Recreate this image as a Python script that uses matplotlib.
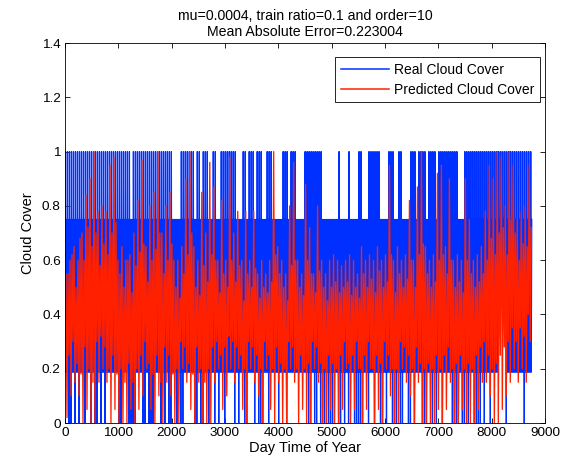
import numpy as np
import matplotlib
matplotlib.use('Agg')
import matplotlib.pyplot as plt

plt.rcParams['font.family'] = ['Liberation Sans', 'DejaVu Sans']

hours_total = 8760

# real cloud cover: levels seen in the plot
full_level = 1.0
upper_level = 0.75
base_level = 0.1875
clear_level = 0.0

# hour spans where the real series reaches 1
full_spans = [(0, 210), (225, 265), (280, 335), (355, 600), (655, 690), (710, 750),
              (805, 975), (995, 1010), (1030, 1090), (1105, 1145), (1160, 1235),
              (1275, 1310), (1330, 1365), (1385, 1425), (1480, 1520), (1555, 1595),
              (1630, 1650), (1670, 1760), (1780, 1840), (1875, 1910), (1970, 1985),
              (2175, 2420), (2495, 2530), (2605, 2680), (2775, 2810), (2945, 3035),
              (3075, 3200), (3340, 3390), (3450, 3525), (3600, 3675), (3790, 3860),
              (4090, 4160), (4240, 4310), (4500, 4575), (4615, 4710), (4745, 4800),
              (5140, 5155), (5325, 5340), (5515, 5570), (5700, 5755), (5775, 5830),
              (5850, 5885), (6095, 6170), (6280, 6320), (6490, 6580), (6640, 6770),
              (6845, 6955), (7015, 7105), (7125, 7350), (7520, 7690), (7725, 7835),
              (7895, 8285), (8345, 8760)]

# hours where the real series drops to 0
clear_hours = [75, 131, 206, 263, 375, 506, 563, 600, 675, 769, 1013, 1050, 1069,
               1200, 1238, 1294, 1331, 1463, 1519, 1594, 1631, 1669, 1800, 1894,
               1950, 1988, 2119, 2175, 2213, 2456, 2475, 2550, 2588, 2719, 2831,
               2888, 3000, 3188, 3281, 3394, 3431, 3563, 3656, 3694, 3731, 3825,
               3844, 4013, 4031, 4163, 4575, 4613, 4688, 4725, 4800, 4838, 4894,
               4969, 5006, 5044, 5138, 5194, 5250, 5325, 5344, 5438, 5475, 5513,
               5569, 5606, 5700, 5831, 5944, 5981, 6038, 6056, 6169, 6206, 6244,
               6319, 6338, 6450, 6488, 6581, 6713, 6750, 6788, 6900, 6919, 6994,
               7106, 7275, 7313, 7369, 7406, 7481, 7519, 7575, 7706, 7725, 7781,
               7819, 7875, 8006, 8194, 8213, 8288, 8306, 8644]

# span where the real series stays at 0.5 or above
raised_spans = [(8150, 8240)]

# predicted cloud cover, max / min per bin (117 bins over the year)
pred_max = [0.55, 0.6, 0.65, 0.6, 0.7, 0.84, 0.9, 1.0, 0.78, 0.8,
            0.78, 0.95, 0.98, 0.6, 0.65, 0.6, 0.62, 0.7, 0.82, 0.97,
            0.65, 0.8, 0.85, 1.0, 0.7, 0.8, 0.85, 0.6, 0.6, 0.65,
            0.9, 1.0, 0.65, 0.6, 0.85, 0.7, 0.96, 0.87, 0.6, 0.82,
            0.6, 0.98, 0.7, 0.78, 0.6, 0.78, 0.6, 0.78, 0.55, 0.6,
            0.55, 0.6, 1.0, 0.65, 0.6, 0.55, 0.8, 0.96, 0.6, 0.55,
            0.88, 0.72, 0.55, 0.8, 0.6, 0.55, 0.6, 0.62, 0.6, 0.58,
            0.6, 0.62, 0.6, 0.55, 0.65, 0.6, 0.62, 0.6, 0.65, 0.6,
            0.62, 0.95, 0.6, 0.65, 0.6, 0.62, 0.82, 0.6, 0.87, 1.0,
            0.65, 0.6, 0.62, 0.92, 0.95, 0.65, 0.9, 0.6, 0.62, 0.6,
            0.9, 0.75, 0.6, 0.62, 0.65, 0.78, 0.95, 0.9, 1.0, 0.98,
            0.8, 1.0, 0.95, 0.75, 0.78, 0.8, 0.95]
pred_min = [0.02, 0.1, 0.15, 0.1, 0.0, 0.05, 0.0, 0.0, 0.15, 0.2,
            0.15, 0.0, 0.05, 0.0, 0.0, 0.0, 0.05, 0.0, 0.05, 0.1,
            0.2, 0.05, 0.0, 0.1, 0.0, 0.15, 0.1, 0.0, 0.0, 0.2,
            0.15, 0.05, 0.0, 0.15, 0.0, 0.0, 0.0, 0.15, 0.2, 0.05,
            0.1, 0.2, 0.15, 0.2, 0.05, 0.0, 0.2, 0.15, 0.1, 0.0,
            0.2, 0.05, 0.0, 0.15, 0.0, 0.0, 0.2, 0.15, 0.0, 0.05,
            0.0, 0.0, 0.2, 0.15, 0.0, 0.0, 0.05, 0.0, 0.0, 0.05,
            0.2, 0.0, 0.05, 0.2, 0.0, 0.05, 0.2, 0.0, 0.05, 0.0,
            0.2, 0.1, 0.0, 0.0, 0.2, 0.15, 0.1, 0.0, 0.15, 0.0,
            0.0, 0.0, 0.0, 0.05, 0.0, 0.05, 0.15, 0.0, 0.0, 0.05,
            0.0, 0.0, 0.0, 0.05, 0.15, 0.15, 0.1, 0.0, 0.0, 0.05,
            0.1, 0.15, 0.2, 0.15, 0.2, 0.15, 0.3]

# dense core of the predicted series, same bins
core_hi = [0.55, 0.62, 0.5, 0.68, 0.6, 0.72, 0.65, 0.7, 0.58, 0.66,
           0.62, 0.7, 0.74, 0.55, 0.5, 0.6, 0.48, 0.58, 0.63, 0.66,
           0.52, 0.6, 0.64, 0.7, 0.55, 0.6, 0.66, 0.5, 0.46, 0.55,
           0.62, 0.7, 0.5, 0.47, 0.58, 0.52, 0.62, 0.6, 0.48, 0.55,
           0.5, 0.6, 0.52, 0.58, 0.45, 0.55, 0.5, 0.57, 0.46, 0.5,
           0.48, 0.52, 0.62, 0.55, 0.5, 0.45, 0.58, 0.6, 0.5, 0.47,
           0.6, 0.55, 0.48, 0.56, 0.5, 0.45, 0.5, 0.52, 0.48, 0.5,
           0.52, 0.47, 0.5, 0.46, 0.55, 0.5, 0.53, 0.48, 0.56, 0.5,
           0.52, 0.62, 0.48, 0.55, 0.5, 0.53, 0.6, 0.5, 0.62, 0.66,
           0.55, 0.5, 0.52, 0.6, 0.62, 0.55, 0.6, 0.5, 0.52, 0.48,
           0.6, 0.55, 0.5, 0.52, 0.55, 0.6, 0.68, 0.62, 0.7, 0.72,
           0.62, 0.75, 0.7, 0.6, 0.66, 0.65, 0.72]
core_lo = [0.2, 0.25, 0.3, 0.22, 0.18, 0.28, 0.2, 0.15, 0.3, 0.32,
           0.28, 0.2, 0.25, 0.18, 0.2, 0.15, 0.22, 0.15, 0.2, 0.25,
           0.3, 0.22, 0.18, 0.25, 0.15, 0.28, 0.25, 0.18, 0.2, 0.3,
           0.28, 0.22, 0.18, 0.28, 0.2, 0.15, 0.2, 0.28, 0.3, 0.25,
           0.28, 0.32, 0.3, 0.28, 0.25, 0.2, 0.3, 0.28, 0.25, 0.2,
           0.3, 0.25, 0.2, 0.28, 0.22, 0.2, 0.3, 0.28, 0.2, 0.25,
           0.2, 0.22, 0.3, 0.28, 0.22, 0.2, 0.25, 0.22, 0.2, 0.25,
           0.3, 0.22, 0.25, 0.3, 0.2, 0.25, 0.3, 0.2, 0.25, 0.22,
           0.3, 0.25, 0.2, 0.2, 0.3, 0.28, 0.25, 0.2, 0.28, 0.22,
           0.2, 0.22, 0.2, 0.25, 0.2, 0.25, 0.28, 0.2, 0.22, 0.25,
           0.2, 0.22, 0.2, 0.25, 0.28, 0.3, 0.25, 0.2, 0.22, 0.25,
           0.28, 0.3, 0.35, 0.3, 0.35, 0.32, 0.4]

title_txt = 'mu=0.0004, train ratio=0.1 and order=10\nMean Absolute Error=0.223004'

# ---- real series: two up/down strokes per 2px bin
nb = 234
edges = np.linspace(0, hours_total, nb + 1)
rx, ry = [], []
for i in range(nb):
    a, b = edges[i], edges[i + 1]
    d = b - a
    hi = full_level if any(s < b and e > a for s, e in full_spans) else upper_level
    lo = clear_level if any(a <= h < b for h in clear_hours) else base_level
    base = base_level
    if any(s < b and e > a for s, e in raised_spans):
        lo = base = 0.5
    rx += [a, a + d / 4, a + d / 2, a + 3 * d / 4]
    ry += [lo, hi, base, upper_level]

# ---- predicted series
nr = len(pred_max)
edges_r = np.linspace(0, hours_total, nr + 1)
px_, py_ = [], []
for j in range(nr):
    a, b = edges_r[j], edges_r[j + 1]
    d = b - a
    px_ += [a, a + d / 4, a + d / 2, a + 3 * d / 4]
    py_ += [core_lo[j], pred_max[j], pred_min[j], core_hi[j]]

fig = plt.figure(figsize=(5.78, 4.65), dpi=100)
ax = fig.add_axes([0.1125, 0.0903, 0.8305, 0.8172])

ax.plot(rx, ry, color='#0030ff', linewidth=0.9, label='Real Cloud Cover')
ax.plot(px_, py_, color='#ff2000', linewidth=0.95, label='Predicted Cloud Cover')

ax.set_xlim(0, 9000)
ax.set_ylim(0, 1.4)
ax.set_xticks(np.arange(0, 9001, 1000))
ax.set_yticks([0, 0.2, 0.4, 0.6, 0.8, 1.0, 1.2, 1.4])
ax.set_yticklabels(['0', '0.2', '0.4', '0.6', '0.8', '1', '1.2', '1.4'])
ax.tick_params(direction='in', top=True, right=True, length=3.5, width=0.6,
               labelsize=9.7, pad=3)
for sp in ax.spines.values():
    sp.set_linewidth(0.6)

ax.set_xlabel('Day Time of Year', fontsize=10.5, labelpad=1)
ax.set_ylabel('Cloud Cover', fontsize=10.5, labelpad=5)
ax.set_title(title_txt, fontsize=10.2, pad=5, linespacing=1.2)

leg = ax.legend(loc='upper right', bbox_to_anchor=(0.99, 0.963), borderaxespad=0,
                fancybox=False, framealpha=1, edgecolor='black', fontsize=10,
                handlelength=3.5, handletextpad=0.35, borderpad=0.4,
                labelspacing=0.45)
leg.get_frame().set_linewidth(0.6)
for ln in leg.get_lines():
    ln.set_linewidth(1.1)

fig.savefig('out.png', dpi=100)
